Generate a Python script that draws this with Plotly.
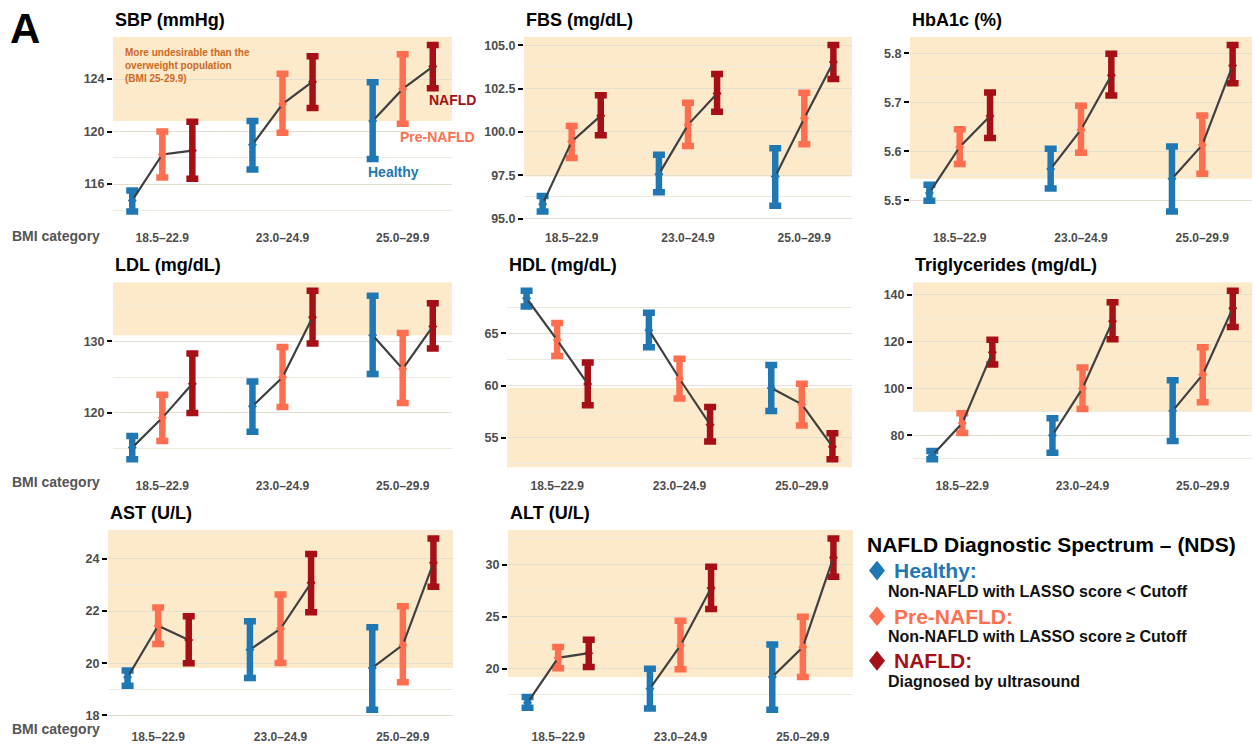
import plotly.graph_objects as go

# ---------------- data ----------------
categories = ["18.5–22.9", "23.0–24.9", "25.0–29.9"]
groups = ["Healthy", "Pre-NAFLD", "NAFLD"]
group_colors = ["#1F78B4", "#FF6F4F", "#A50F15"]

# rows = groups (Healthy, Pre-NAFLD, NAFLD); columns = BMI categories
sbp_mean = [[114.75, 119.0, 120.8], [118.25, 122.1, 123.25], [118.55, 123.8, 124.95]]
sbp_lower = [[113.9, 117.1, 117.9], [116.5, 119.9, 120.6], [116.4, 121.8, 123.3]]
sbp_upper = [[115.5, 120.8, 123.75], [120.0, 124.4, 125.9], [120.75, 125.75, 126.6]]

fbs_mean = [[95.83, 97.56, 97.42], [99.44, 100.41, 100.79], [100.94, 102.22, 104.04]]
fbs_lower = [[95.4, 96.52, 95.73], [98.5, 99.19, 99.29], [99.81, 101.17, 103.06]]
fbs_upper = [[96.3, 98.68, 99.06], [100.34, 101.69, 102.26], [102.12, 103.35, 105.02]]

hba1c_mean = [[5.515, 5.564, 5.544], [5.609, 5.644, 5.613], [5.672, 5.755, 5.775]]
hba1c_lower = [[5.499, 5.524, 5.477], [5.574, 5.597, 5.554], [5.627, 5.714, 5.739]]
hba1c_upper = [[5.532, 5.605, 5.61], [5.645, 5.693, 5.673], [5.72, 5.799, 5.817]]

ldl_mean = [[115.16, 120.92, 130.83], [119.31, 124.98, 126.13], [124.06, 133.36, 132.07]]
ldl_lower = [[113.55, 117.37, 125.44], [116.08, 120.83, 121.38], [120.0, 129.68, 128.99]]
ldl_upper = [[116.77, 124.38, 136.36], [122.53, 129.2, 131.15], [128.29, 137.05, 135.3]]

hdl_mean = [[68.38, 65.32, 59.78], [64.37, 60.66, 58.2], [60.16, 56.25, 54.15]]
hdl_lower = [[67.59, 63.68, 57.57], [62.85, 58.77, 56.17], [58.11, 54.65, 52.95]]
hdl_upper = [[69.1, 66.99, 61.99], [66.0, 62.57, 60.19], [62.21, 57.95, 55.44]]

tg_mean = [[71.4, 80.0, 90.4], [85.2, 100.0, 105.9], [115.4, 128.7, 134.2]]
tg_lower = [[69.8, 72.5, 77.5], [81.0, 91.2, 94.1], [110.2, 121.0, 126.2]]
tg_upper = [[73.3, 87.3, 103.5], [89.4, 108.9, 117.6], [120.8, 136.8, 141.7]]

ast_mean = [[19.46, 20.52, 19.82], [21.44, 21.32, 20.7], [20.89, 23.08, 23.85]]
ast_lower = [[19.14, 19.43, 18.22], [20.74, 20.01, 19.27], [20.0, 21.95, 22.93]]
ast_upper = [[19.72, 21.61, 21.38], [22.14, 22.63, 22.18], [21.8, 24.19, 24.78]]

alt_mean = [[16.74, 18.08, 19.2], [21.05, 22.24, 22.08], [21.5, 27.76, 30.7]]
alt_lower = [[16.26, 16.17, 16.07], [20.06, 19.94, 19.2], [20.16, 25.75, 28.85]]
alt_upper = [[17.28, 20.0, 22.33], [22.08, 24.62, 25.0], [22.78, 29.81, 32.52]]

# ---------------- layout / styling ----------------
W, H = 1255, 744
FONT = "Liberation Sans, Arial, sans-serif"
TICK_GRAY = "#4D4D4D"
DODGE = 0.25

# (title, mean, lower, upper, shade above?, dtick, minor dtick, tickformat, x px range, y px range)
panels = [
    ("SBP (mmHg)", sbp_mean, sbp_lower, sbp_upper, True, 4, 2, "d", (113, 452), (37, 222)),
    ("FBS (mg/dL)", fbs_mean, fbs_lower, fbs_upper, True, 2.5, 1.25, ".1f", (524, 852), (37, 222)),
    ("HbA1c (%)", hba1c_mean, hba1c_lower, hba1c_upper, True, 0.1, 0.05, ".1f", (910, 1252), (37, 222)),
    ("LDL (mg/dL)", ldl_mean, ldl_lower, ldl_upper, True, 10, 5, "d", (113, 452), (285, 472)),
    ("HDL (mg/dL)", hdl_mean, hdl_lower, hdl_upper, False, 5, 2.5, "d", (507, 852), (285, 472)),
    ("Triglycerides (mg/dL)", tg_mean, tg_lower, tg_upper, True, 20, 10, "d", (913, 1252), (285, 472)),
    ("AST (U/L)", ast_mean, ast_lower, ast_upper, True, 2, 1, "d", (108, 453), (535, 725)),
    ("ALT (U/L)", alt_mean, alt_lower, alt_upper, True, 5, 2.5, "d", (508, 853), (535, 725)),
]


def px_x(p):
    return p / W


def px_y(p):
    return 1 - p / H


fig = go.Figure()
layout_axes = {}
shapes = []
annotations = []

for i, (title, mean, lower, upper, above, dtick, mdtick, tfmt, xr, yr) in enumerate(panels):
    n = i + 1
    xa = "x" if n == 1 else f"x{n}"
    ya = "y" if n == 1 else f"y{n}"
    xkey = "xaxis" if n == 1 else f"xaxis{n}"
    ykey = "yaxis" if n == 1 else f"yaxis{n}"

    lo = min(min(r) for r in lower)
    hi = max(max(r) for r in upper)
    pad = 0.05 * (hi - lo)
    yrange = [lo - pad, hi + pad]

    # error bars
    for g in range(3):
        xs = [c + (g - 1) * DODGE for c in range(3)]
        fig.add_trace(go.Scatter(
            x=xs, y=mean[g], mode="markers", xaxis=xa, yaxis=ya,
            marker=dict(size=2, color=group_colors[g]),
            error_y=dict(type="data", symmetric=False,
                         array=[u - m for u, m in zip(upper[g], mean[g])],
                         arrayminus=[m - l for m, l in zip(mean[g], lower[g])],
                         color=group_colors[g], thickness=6.5, width=6),
            showlegend=False, hoverinfo="skip"))
    # connecting lines within each BMI category
    for c in range(3):
        fig.add_trace(go.Scatter(
            x=[c - DODGE, c, c + DODGE], y=[mean[g][c] for g in range(3)],
            mode="lines", xaxis=xa, yaxis=ya,
            line=dict(color="#404040", width=2.2),
            showlegend=False, hoverinfo="skip"))
    # mean markers
    for g in range(3):
        xs = [c + (g - 1) * DODGE for c in range(3)]
        fig.add_trace(go.Scatter(
            x=xs, y=mean[g], mode="markers", xaxis=xa, yaxis=ya,
            marker=dict(symbol="diamond", size=7, color=group_colors[g]),
            showlegend=False, name=groups[g]))

    layout_axes[xkey] = dict(
        domain=[px_x(xr[0]), px_x(xr[1])], anchor=ya, range=[-0.41, 2.41],
        tickvals=[0, 1, 2], ticktext=categories, showgrid=False, zeroline=False,
        showline=False, ticks="outside", ticklen=7, tickcolor="rgba(0,0,0,0)",
        tickfont=dict(family=FONT, size=12, color=TICK_GRAY, weight="bold"),
        fixedrange=True)
    layout_axes[ykey] = dict(
        domain=[px_y(yr[1]), px_y(yr[0])], anchor=xa, range=yrange,
        tick0=0, dtick=dtick, tickformat=tfmt, showgrid=True, gridcolor="#E4DED2",
        gridwidth=1, zeroline=False, showline=False, ticks="outside", ticklen=5,
        tickwidth=2.2, tickcolor="#000000",
        tickfont=dict(family=FONT, size=12.5, color=TICK_GRAY, weight="bold"),
        minor=dict(dtick=mdtick, tick0=0, showgrid=True, gridcolor="#EFEAE0",
                   gridwidth=1, ticklen=0),
        fixedrange=True)

    # undesirable zone: beyond the Healthy overweight (25.0–29.9) mean
    thr = mean[0][2]
    shapes.append(dict(
        type="rect", xref=f"{xa} domain", yref=ya, x0=0, x1=1,
        y0=thr, y1=(yrange[1] if above else yrange[0]),
        fillcolor="#FCEACA", line=dict(width=0), layer="below"))

    annotations.append(dict(
        text=title, xref="paper", yref="paper", x=px_x(xr[0]), y=px_y(yr[0] - 17),
        xanchor="left", yanchor="middle", showarrow=False,
        font=dict(family=FONT, size=18, color="#000000", weight="bold")))

# BMI category labels
for ypx in (238, 487, 736):
    annotations.append(dict(
        text="BMI category", xref="paper", yref="paper", x=px_x(10), y=px_y(ypx),
        xanchor="left", yanchor="middle", showarrow=False,
        font=dict(family=FONT, size=14, color="#555555", weight="bold")))

# Panel letter
annotations.append(dict(
    text="A", xref="paper", yref="paper", x=px_x(8), y=px_y(29),
    xanchor="left", yanchor="middle", showarrow=False,
    font=dict(family=FONT, size=42, color="#000000", weight="bold")))

# SBP in-panel notes
annotations.append(dict(
    text="More undesirable than the<br>overweight population<br>(BMI 25-29.9)",
    xref="paper", yref="paper", x=px_x(123), y=px_y(45), xanchor="left", yanchor="top",
    align="left", showarrow=False,
    font=dict(family=FONT, size=10, color="#D0691E", weight="bold")))
for label, col, xpx, ypx in (("NAFLD", group_colors[2], 427, 101),
                              ("Pre-NAFLD", group_colors[1], 398, 138),
                              ("Healthy", group_colors[0], 366, 174)):
    annotations.append(dict(
        text=label, xref="paper", yref="paper", x=px_x(xpx), y=px_y(ypx),
        xanchor="left", yanchor="middle", showarrow=False,
        font=dict(family=FONT, size=14, color=col, weight="bold")))

# Legend block
annotations.append(dict(
    text="NAFLD Diagnostic Spectrum – (NDS)", xref="paper", yref="paper",
    x=px_x(865), y=px_y(550), xanchor="left", yanchor="middle", showarrow=False,
    font=dict(family=FONT, size=21, color="#000000", weight="bold")))
legend_desc = ["Non-NAFLD with LASSO score < Cutoff",
               "Non-NAFLD with LASSO score ≥ Cutoff",
               "Diagnosed by ultrasound"]
for g, ypx in zip(range(3), (576, 622, 667)):
    cx, cy, hw, hh = 877, ypx, 8, 10
    path = (f"M {px_x(cx)} {px_y(cy - hh)} L {px_x(cx + hw)} {px_y(cy)} "
            f"L {px_x(cx)} {px_y(cy + hh)} L {px_x(cx - hw)} {px_y(cy)} Z")
    shapes.append(dict(type="path", xref="paper", yref="paper", path=path,
                       fillcolor=group_colors[g], line=dict(width=0), layer="above"))
    annotations.append(dict(
        text=groups[g] + ":", xref="paper", yref="paper", x=px_x(892), y=px_y(ypx),
        xanchor="left", yanchor="middle", showarrow=False,
        font=dict(family=FONT, size=21, color=group_colors[g], weight="bold")))
    annotations.append(dict(
        text=legend_desc[g], xref="paper", yref="paper", x=px_x(886), y=px_y(ypx + 21),
        xanchor="left", yanchor="middle", showarrow=False,
        font=dict(family=FONT, size=16, color="#111111", weight="bold")))

fig.update_layout(
    width=W, height=H, autosize=False,
    margin=dict(l=0, r=0, t=0, b=0),
    paper_bgcolor="#FFFFFF", plot_bgcolor="#FFFFFF",
    showlegend=False, shapes=shapes, annotations=annotations,
    font=dict(family=FONT),
    **layout_axes)

fig.write_html("out.html", config={"displayModeBar": False},
               post_script="document.body.style.margin='0';")
